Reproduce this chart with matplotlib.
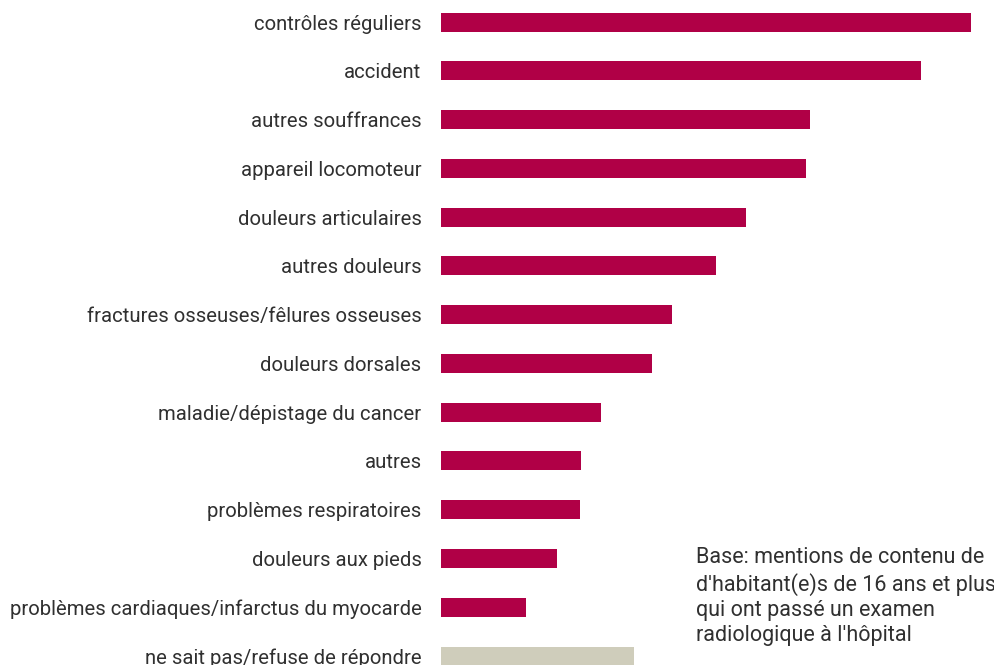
import matplotlib.pyplot as plt

categories = [
    "contrôles réguliers",
    "accident",
    "autres souffrances",
    "appareil locomoteur",
    "douleurs articulaires",
    "autres douleurs",
    "fractures osseuses/fêlures osseuses",
    "douleurs dorsales",
    "maladie/dépistage du cancer",
    "autres",
    "problèmes respiratoires",
    "douleurs aux pieds",
    "problèmes cardiaques/infarctus du myocarde",
    "ne sait pas/refuse de répondre",
]
values = [26.5, 24.0, 18.45, 18.25, 15.25, 13.75, 11.55, 10.55, 8.0, 7.0, 6.95, 5.8, 4.25, 9.65]
colors = ["#b00046"] * 13 + ["#cfcdbb"]

note = ("Base: mentions de contenu de\n"
        "d'habitant(e)s de 16 ans et plus\n"
        "qui ont passé un examen\n"
        "radiologique à l'hôpital")

plt.rcParams['font.family'] = ['Roboto', 'DejaVu Sans']

W, H = 995, 665
fig = plt.figure(figsize=(W / 100, H / 100), dpi=100)
ax = fig.add_axes([441 / W, 0, 1 - 441 / W, 1])

pitch = 48.77
ypos = list(range(len(categories)))
ax.barh(ypos, values, height=19 / pitch, color=colors)
ax.set_xlim(0, (W - 441) / 20)
ax.set_ylim((665 - 22) / pitch, -22 / pitch)

ax.set_yticks(ypos)
ax.set_yticklabels(categories, fontsize=14.6, color="#303030")
ax.tick_params(axis="y", length=0, pad=14)
ax.set_xticks([])
for s in ax.spines.values():
    s.set_visible(False)

fig.text(696 / W, 1 - 547 / H, note, fontsize=15.5, color="#303030",
         va="top", ha="left", linespacing=1.27)

fig.savefig("out.png", dpi=100)
